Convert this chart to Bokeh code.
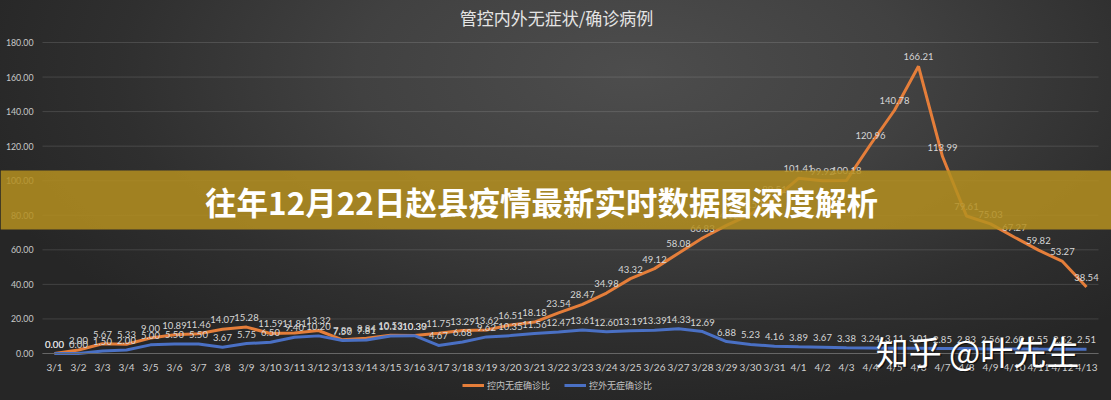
from bokeh.plotting import figure
from bokeh.models import (ColumnDataSource, Range1d, FixedTicker,
                          NumeralTickFormatter, BoxAnnotation, Label)
from bokeh.embed import file_html
from bokeh.resources import INLINE
from bokeh.core.properties import value

dates = ["3/1", "3/2", "3/3", "3/4", "3/5", "3/6", "3/7", "3/8", "3/9", "3/10",
         "3/11", "3/12", "3/13", "3/14", "3/15", "3/16", "3/17", "3/18", "3/19", "3/20",
         "3/21", "3/22", "3/23", "3/24", "3/25", "3/26", "3/27", "3/28", "3/29", "3/30",
         "3/31", "4/1", "4/2", "4/3", "4/4", "4/5", "4/6", "4/7", "4/8", "4/9",
         "4/10", "4/11", "4/12", "4/13"]

inside_ratio = [0.00, 2.00, 5.67, 5.33, 9.00, 10.89, 11.46, 14.07, 15.28, 11.59,
                11.81, 13.32, 7.89, 8.84, 10.53, 10.39, 11.75, 13.29, 13.62, 16.51,
                18.18, 23.54, 28.47, 34.98, 43.32, 49.12, 58.08, 66.83, 74.12, 80.57,
                89.51, 101.41, 99.92, 100.18, 120.96, 140.78, 166.21, 113.99, 79.61, 75.03,
                67.27, 59.82, 53.27, 38.54]

outside_ratio = [0.00, 0.00, 1.50, 2.00, 5.00, 5.50, 5.50, 3.67, 5.75, 6.50,
                 9.40, 10.20, 7.50, 7.81, 10.13, 10.30, 4.67, 6.68, 9.62, 10.35,
                 11.56, 12.47, 13.61, 12.60, 13.19, 13.39, 14.33, 12.69, 6.88, 5.23,
                 4.16, 3.89, 3.67, 3.38, 3.24, 3.11, 3.01, 2.85, 2.83, 2.56,
                 2.60, 2.55, 2.52, 2.51]

y_ticks = [0, 20, 40, 60, 80, 100, 120, 140, 160, 180]

series_names = ["控内无症确诊比", "控外无症确诊比"]
chart_title = "管控内外无症状/确诊病例"
banner_text = "往年12月22日赵县疫情最新实时数据图深度解析"
watermark_text = "知乎 @叶先生"

ORANGE = "#e57e3a"
BLUE = "#4a70c4"
CJK = "Noto Sans CJK SC"
NUM = "Lato"

W, H = 1111, 400
# plot area of the chart inside the canvas (pixels)
AREA_L, AREA_R, AREA_T, AREA_B = 42, 1098, 42, 353

n = len(dates)
xs = [i + 0.5 for i in range(n)]           # category centres
px_per_cat = (AREA_R - AREA_L) / n
x_start = -AREA_L / px_per_cat
x_end = x_start + W / px_per_cat
px_per_unit = (AREA_B - AREA_T) / y_ticks[-1]
y_end = AREA_B / px_per_unit
y_start = -(H - AREA_B) / px_per_unit

p = figure(width=W, height=H, x_range=Range1d(x_start, x_end), y_range=Range1d(y_start, y_end),
           output_backend="svg", toolbar_location=None,
           min_border_left=0, min_border_right=0, min_border_top=0, min_border_bottom=0,
           background_fill_alpha=0, border_fill_alpha=0)
p.styles = {"background": "radial-gradient(ellipse 62% 85% at 57% 18%, #4d4d4d 0%, #414141 40%, #2f2f2f 75%, #262626 100%)"}
p.outline_line_color = None
p.xgrid.visible = False
p.ygrid.visible = False

# horizontal gridlines spanning the category area
p.segment(x0=[0] * len(y_ticks), x1=[n] * len(y_ticks), y0=y_ticks, y1=y_ticks,
          line_color="#ffffff", line_alpha=0.13, line_width=1)

src_in = ColumnDataSource(dict(x=xs, y=inside_ratio, t=[f"{v:.2f}" for v in inside_ratio]))
src_out = ColumnDataSource(dict(x=xs, y=outside_ratio, t=[f"{v:.2f}" for v in outside_ratio]))

p.line("x", "y", source=src_in, line_color=ORANGE, line_width=3, legend_label=series_names[0])
p.line("x", "y", source=src_out, line_color=BLUE, line_width=3, legend_label=series_names[1])

for src in (src_in, src_out):
    p.text("x", "y", text="t", source=src, text_align="center", text_baseline="bottom",
           y_offset=-6, text_font=value(NUM), text_font_size="9.5px", text_color="#d6d6d6")

# axes drawn at fixed positions (take no border space)
p.yaxis.fixed_location = 0
p.yaxis.bounds = (y_ticks[0], y_ticks[-1])
p.yaxis.ticker = FixedTicker(ticks=y_ticks)
p.yaxis.formatter = NumeralTickFormatter(format="0.00")
p.yaxis.axis_line_color = None
p.yaxis.major_tick_line_color = None
p.yaxis.minor_tick_line_color = None
p.yaxis.major_tick_out = 0
p.yaxis.major_tick_in = 0
p.yaxis.major_label_standoff = 9
p.yaxis.major_label_text_font = NUM
p.yaxis.major_label_text_font_size = "8.8px"
p.yaxis.major_label_text_color = "#c8c8c8"

p.xaxis.fixed_location = 0
p.xaxis.bounds = (0, n)
p.xaxis.ticker = FixedTicker(ticks=xs)
p.xaxis.major_label_overrides = {x: d for x, d in zip(xs, dates)}
p.xaxis.axis_line_color = "#666666"
p.xaxis.major_tick_line_color = None
p.xaxis.minor_tick_line_color = None
p.xaxis.major_tick_out = 0
p.xaxis.major_tick_in = 0
p.xaxis.major_label_standoff = 7
p.xaxis.major_label_text_font = NUM
p.xaxis.major_label_text_font_size = "10px"
p.xaxis.major_label_text_color = "#d0d0d0"

# legend
lg = p.legend[0]
lg.location = (462, 8)
lg.orientation = "horizontal"
lg.glyph_width = 22
lg.glyph_height = 14
lg.label_height = 14
lg.label_standoff = 3
lg.padding = 0
lg.margin = 0
lg.spacing = 14
lg.background_fill_alpha = 0
lg.border_line_color = None
lg.label_text_font = CJK
lg.label_text_font_size = "9px"
lg.label_text_color = "#c4c4c4"

# title
p.add_layout(Label(x=556, y=H - 17, x_units="screen", y_units="screen", text=chart_title,
                   text_align="center", text_baseline="middle", text_font=CJK,
                   text_font_size="17px", text_color="#e4e4e4"))

# banner overlay
p.add_layout(BoxAnnotation(top=H - 170, bottom=H - 229,
                           top_units="screen", bottom_units="screen",
                           fill_color="#b58f1f", fill_alpha=0.86, line_alpha=0))
p.add_layout(Label(x=541, y=H - 200, x_units="screen", y_units="screen", text=banner_text,
                   text_align="center", text_baseline="middle", text_font=CJK,
                   text_font_style="bold", text_font_size="31.5px", text_color="#ffffff"))

# watermark
p.add_layout(Label(x=978.5, y=H - 351.5, x_units="screen", y_units="screen", text=watermark_text,
                   text_align="center", text_baseline="middle", text_font=CJK,
                   text_font_size="33px", text_color="#000000", text_alpha=0.55))
p.add_layout(Label(x=977, y=H - 350, x_units="screen", y_units="screen", text=watermark_text,
                   text_align="center", text_baseline="middle", text_font=CJK,
                   text_font_size="33px", text_color="#ffffff"))

open("out.html", "w").write(file_html(p, INLINE))
